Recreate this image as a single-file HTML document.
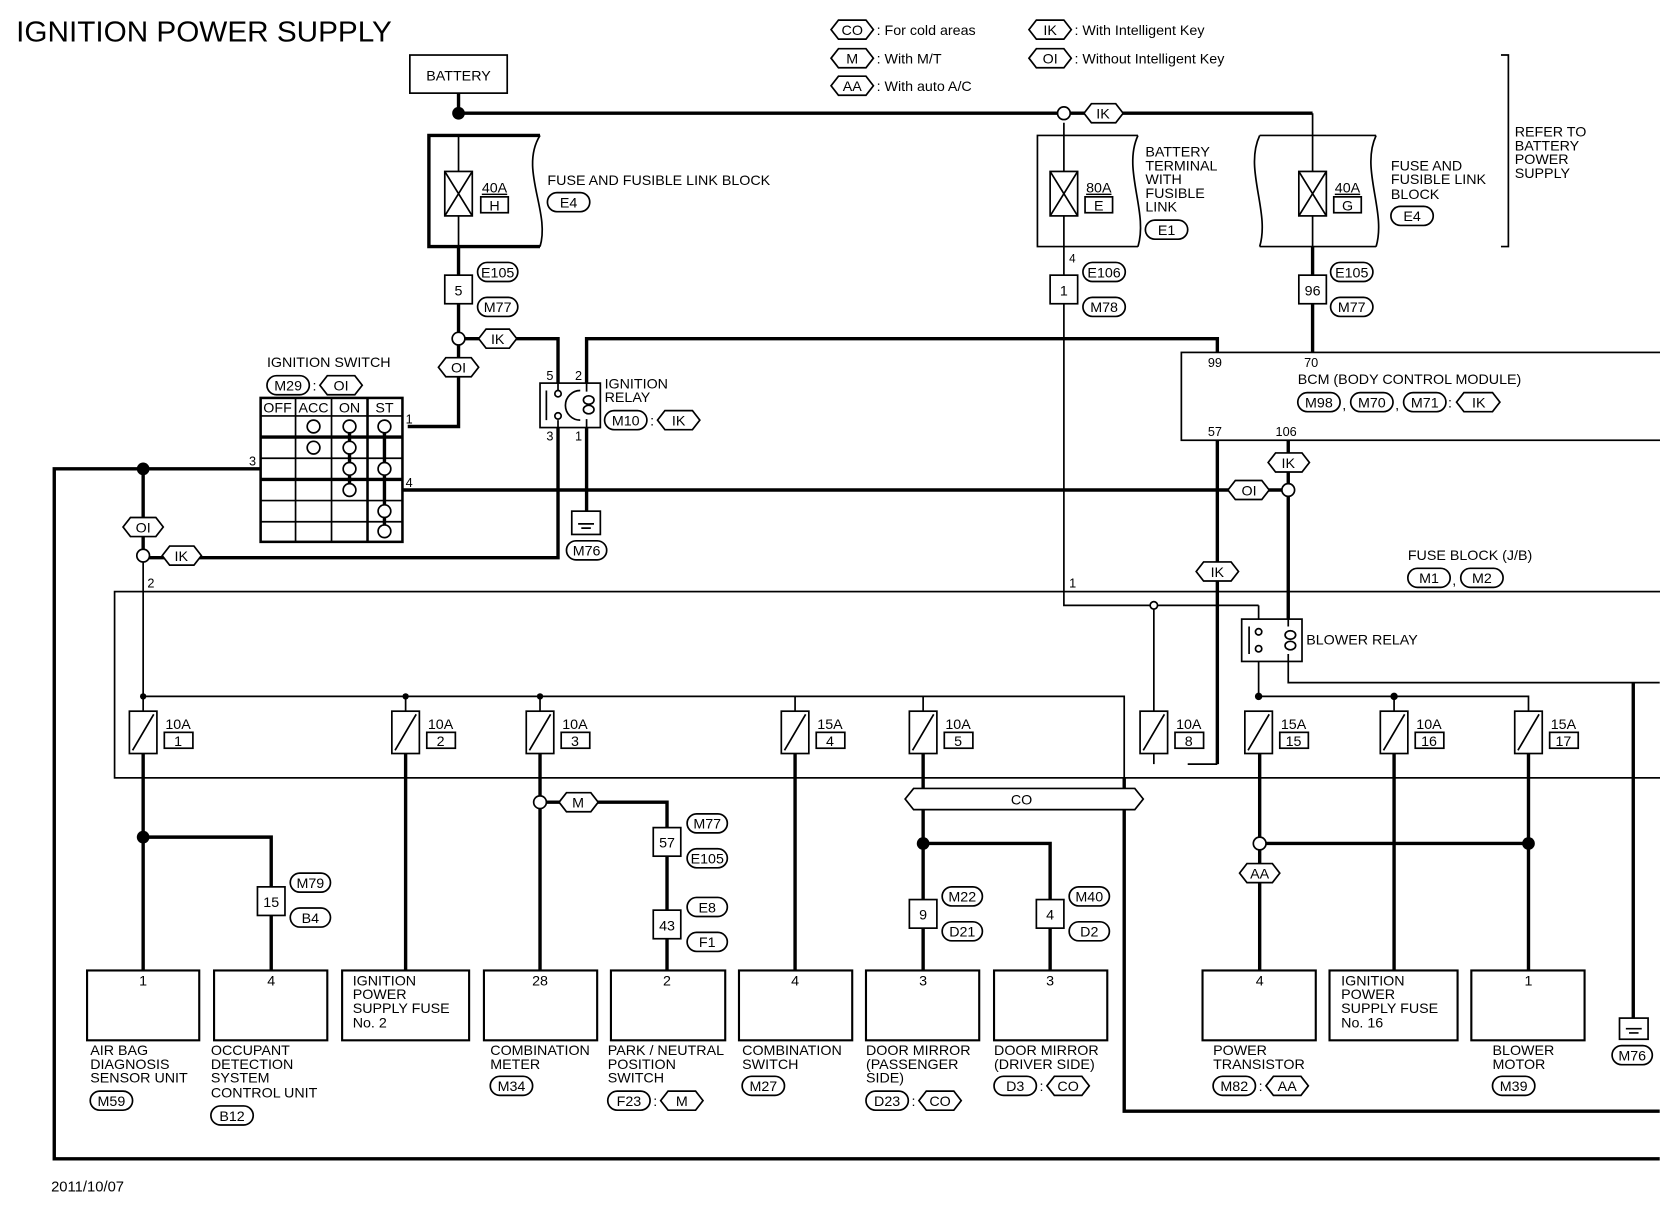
<!DOCTYPE html>
<html><head><meta charset="utf-8"><style>
html,body{margin:0;padding:0;background:#fff}
svg{display:block}
text{font-family:"Liberation Sans",sans-serif;font-size:13.5px;fill:#000}
.t{stroke:#000;stroke-width:3.2;fill:none}
.n{stroke:#000;stroke-width:1.6;fill:none}
.b{stroke:#000;stroke-width:1.6;fill:#fff}
.m{text-anchor:middle}
</style></head><body>
<svg width="1660" height="1216" viewBox="0 0 1568 1149" xmlns="http://www.w3.org/2000/svg">
<text x="15" y="39" style="font-size:27px" textLength="355" lengthAdjust="spacingAndGlyphs">IGNITION POWER SUPPLY</text>

<!-- legend -->
<g class="n">
<polygon points="785,28 792,19 818,19 825,28 818,37 792,37"/>
<polygon points="785,55 792,46 818,46 825,55 818,64 792,64"/>
<polygon points="785,81 792,72 818,72 825,81 818,90 792,90"/>
<polygon points="972,28 979,19 1005,19 1012,28 1005,37 979,37"/>
<polygon points="972,55 979,46 1005,46 1012,55 1005,64 979,64"/>
</g>
<text x="805" y="33" class="m">CO</text><text x="805" y="60" class="m">M</text><text x="805" y="86" class="m">AA</text>
<text x="992" y="33" class="m">IK</text><text x="992" y="60" class="m">OI</text>
<text x="828" y="33">: For cold areas</text><text x="828" y="60">: With M/T</text><text x="828" y="86">: With auto A/C</text>
<text x="1015" y="33">: With Intelligent Key</text><text x="1015" y="60">: Without Intelligent Key</text>
<path class="n" d="M1418,52 H1425 V233 H1418"/>
<text x="1431" y="129">REFER TO</text><text x="1431" y="142">BATTERY</text><text x="1431" y="155">POWER</text><text x="1431" y="168">SUPPLY</text>

<!-- battery -->
<rect class="n" x="387" y="52" width="92" height="36"/>
<text x="433" y="76" class="m">BATTERY</text>
<path class="t" d="M433,88 V107 H1005 M1005,107 H1240"/>
<circle cx="433" cy="107" r="6"/>

<!-- fuse blocks top -->
<path class="t" d="M510,128 H405 V233 H510" /><path class="n" d="M510,128 C490,160 520,200 510,233"/>
<path class="n" d="M1075,128 H980 V233 H1075 M1075,128 C1060,160 1085,200 1075,233"/>
<path class="n" d="M1190,128 H1300 M1190,233 H1300 M1190,128 C1175,160 1200,200 1190,233 M1300,128 C1285,160 1310,200 1300,233"/>
<path class="n" d="M433,128 V233"/><path class="n" d="M1005,116 V572 H1189"/>
<path class="n" d="M1240,107 V260"/>
<g class="b"><rect x="420" y="162" width="26" height="42"/><rect x="992" y="162" width="26" height="42"/><rect x="1227" y="162" width="26" height="42"/>
<rect x="454" y="186" width="26" height="15"/><rect x="1025" y="186" width="26" height="15"/><rect x="1260" y="186" width="26" height="15"/></g>
<path class="n" d="M420,162 L446,204 M446,162 L420,204 M992,162 L1018,204 M1018,162 L992,204 M1227,162 L1253,204 M1253,162 L1227,204"/>
<text x="455" y="182" style="text-decoration:underline">40A</text><text x="467" y="199" class="m">H</text>
<text x="1026" y="182" style="text-decoration:underline">80A</text><text x="1038" y="199" class="m">E</text>
<text x="1261" y="182" style="text-decoration:underline">40A</text><text x="1273" y="199" class="m">G</text>
<text x="517" y="175">FUSE AND FUSIBLE LINK BLOCK</text>
<text x="1082" y="148">BATTERY</text><text x="1082" y="161">TERMINAL</text><text x="1082" y="174">WITH</text><text x="1082" y="187">FUSIBLE</text><text x="1082" y="200">LINK</text>
<text x="1314" y="161">FUSE AND</text><text x="1314" y="174">FUSIBLE LINK</text><text x="1314" y="188">BLOCK</text>
<g class="n"><rect x="517" y="182" width="40" height="18" rx="9"/><rect x="1082" y="208" width="40" height="18" rx="9"/><rect x="1314" y="195" width="40" height="18" rx="9"/></g>
<text x="537" y="196" class="m">E4</text><text x="1102" y="222" class="m">E1</text><text x="1334" y="209" class="m">E4</text>
<circle class="b" cx="1005" cy="107" r="6"/>
<polygon class="b" points="1024,107 1031,98 1054,98 1061,107 1054,116 1031,116"/><text x="1042" y="112" class="m">IK</text>

<!-- verticals to connectors -->
<path class="t" d="M433,233 V403 H385"/>
<path class="t" d="M1240,233 V333"/>
<g class="b"><rect x="420" y="260" width="26" height="27"/><rect x="992" y="260" width="26" height="27"/><rect x="1227" y="260" width="26" height="27"/></g>
<text x="433" y="279" class="m">5</text><text x="1005" y="279" class="m">1</text><text x="1240" y="279" class="m">96</text>
<text x="1010" y="248" style="font-size:11px">4</text>
<g class="n">
<rect x="451" y="248" width="38" height="18" rx="9"/><rect x="451" y="281" width="38" height="18" rx="9"/>
<rect x="1023" y="248" width="40" height="18" rx="9"/><rect x="1023" y="281" width="40" height="18" rx="9"/>
<rect x="1257" y="248" width="40" height="18" rx="9"/><rect x="1257" y="281" width="40" height="18" rx="9"/>
</g>
<text x="470" y="262" class="m">E105</text><text x="470" y="295" class="m">M77</text>
<text x="1043" y="262" class="m">E106</text><text x="1043" y="295" class="m">M78</text>
<text x="1277" y="262" class="m">E105</text><text x="1277" y="295" class="m">M77</text>

<!-- IK to relay -->
<path class="t" d="M433,320 H527 V527 H135"/>
<circle class="b" cx="433" cy="320" r="6"/>
<polygon class="b" points="452,320 459,311 481,311 488,320 481,329 459,329"/><text x="470" y="325" class="m">IK</text>
<polygon class="b" points="414,347 421,338 445,338 452,347 445,356 421,356"/><text x="433" y="352" class="m">OI</text>
<path class="t" d="M554,362 V320 H1150 V333"/>
<path class="t" d="M554,404 V483"/>
<rect class="n" x="540" y="483" width="27" height="22"/><path class="n" d="M546,495 H561 M549,499 H558"/>
<rect class="n" x="535" y="511" width="38" height="18" rx="9" fill="#fff"/><text x="554" y="525" class="m">M76</text>
<rect class="b" x="510" y="362" width="57" height="42"/>
<path class="n" d="M516,369 V397 M527,362 V369 M527,404 V397 M548,369 A4,4 0 0 0 548,397 M554,362 V370 M554,396 V404"/>
<circle class="b" cx="527" cy="372" r="3"/><circle class="b" cx="527" cy="393" r="3"/>
<ellipse class="n" cx="556" cy="378" rx="5" ry="4"/><ellipse class="n" cx="556" cy="387" rx="5" ry="4"/>
<text x="516" y="359" style="font-size:12px">5</text><text x="543" y="359" style="font-size:12px">2</text>
<text x="516" y="416" style="font-size:12px">3</text><text x="543" y="416" style="font-size:12px">1</text>
<text x="571" y="367">IGNITION</text><text x="571" y="380">RELAY</text>
<rect class="n" x="571" y="388" width="40" height="18" rx="9"/><text x="591" y="402" class="m">M10</text><text x="614" y="402">:</text>
<polygon class="n" points="621,397 628,388 654,388 661,397 654,406 628,406"/><text x="641" y="402" class="m">IK</text>

<!-- ignition switch -->
<text x="252" y="347">IGNITION SWITCH</text>
<rect class="n" x="252" y="355" width="40" height="18" rx="9"/><text x="272" y="369" class="m">M29</text><text x="295" y="369">:</text>
<polygon class="n" points="302,364 309,355 335,355 342,364 335,373 309,373"/><text x="322" y="369" class="m">OI</text>
<rect class="n" x="246" y="376" width="134" height="136" style="stroke-width:2.4"/>
<path class="n" d="M279,376 V512 M313,376 V512 M246,393 H380 M246,433 H380 M246,473 H380 M246,493 H380"/>
<path class="n" style="stroke-width:2.4" d="M347,376 V512"/>
<path class="t" d="M246,413 H380 M246,453 H380"/>
<text x="262" y="390" class="m">OFF</text><text x="296" y="390" class="m">ACC</text><text x="330" y="390" class="m">ON</text><text x="363" y="390" class="m">ST</text>
<path class="t" d="M330,403 V463 M363,403 V502"/>
<g class="b"><circle cx="296" cy="403" r="6"/><circle cx="330" cy="403" r="6"/><circle cx="363" cy="403" r="6"/>
<circle cx="296" cy="423" r="6"/><circle cx="330" cy="423" r="6"/>
<circle cx="330" cy="443" r="6"/><circle cx="363" cy="443" r="6"/>
<circle cx="330" cy="463" r="6"/><circle cx="363" cy="483" r="6"/><circle cx="363" cy="502" r="6"/></g>
<text x="383" y="400" style="font-size:12px">1</text><text x="383" y="460" style="font-size:12px">4</text><text x="235" y="440" style="font-size:12px">3</text>
<path class="t" d="M380,463 H1217"/>
<path class="t" d="M246,443 H51 V1095 H1568"/>
<circle cx="135" cy="443" r="6"/>
<path class="t" d="M135,443 V527"/>
<path class="n" d="M135,527 V658"/>
<circle class="b" cx="135" cy="525" r="6"/>
<polygon class="b" points="116,498 123,489 147,489 154,498 147,507 123,507"/><text x="135" y="503" class="m">OI</text>
<polygon class="b" points="153,525 160,516 183,516 190,525 183,534 160,534"/><text x="171" y="530" class="m">IK</text>
<text x="139" y="555" style="font-size:12px">2</text>

<!-- BCM -->
<rect class="n" x="1116" y="333" width="460" height="83"/>
<text x="1141" y="347" style="font-size:12px">99</text><text x="1232" y="347" style="font-size:12px">70</text>
<text x="1226" y="363">BCM (BODY CONTROL MODULE)</text>
<g class="n"><rect x="1226" y="371" width="40" height="18" rx="9"/><rect x="1276" y="371" width="40" height="18" rx="9"/><rect x="1326" y="371" width="40" height="18" rx="9"/>
<polygon points="1376,380 1383,371 1410,371 1417,380 1410,389 1383,389"/></g>
<text x="1246" y="385" class="m">M98</text><text x="1296" y="385" class="m">M70</text><text x="1346" y="385" class="m">M71</text>
<text x="1268" y="387">,</text><text x="1318" y="387">,</text><text x="1368" y="385">:</text><text x="1397" y="385" class="m">IK</text>
<text x="1141" y="412" style="font-size:12px">57</text><text x="1205" y="412" style="font-size:12px">106</text>
<path class="t" d="M1150,416 V722 M1217,416 V585"/>
<path class="n" d="M1150,722 H1122"/>
<polygon class="b" points="1198,437 1205,428 1230,428 1237,437 1230,446 1205,446"/><text x="1217" y="442" class="m">IK</text>
<polygon class="b" points="1160,463 1167,454 1192,454 1199,463 1192,472 1167,472"/><text x="1180" y="468" class="m">OI</text>
<circle class="b" cx="1217" cy="463" r="6"/>
<polygon class="b" points="1130,540 1137,531 1163,531 1170,540 1163,549 1137,549"/><text x="1150" y="545" class="m">IK</text>

<!-- fuse block J/B -->
<rect class="n" x="108" y="559" width="1470" height="176"/>
<text x="1330" y="529">FUSE BLOCK (J/B)</text>
<rect class="n" x="1330" y="537" width="40" height="18" rx="9"/><text x="1350" y="551" class="m">M1</text><text x="1372" y="553">,</text>
<rect class="n" x="1380" y="537" width="40" height="18" rx="9"/><text x="1400" y="551" class="m">M2</text>
<text x="1010" y="555" style="font-size:12px">1</text>
<path class="n" d="M1090,572 V672"/><circle class="b" cx="1090" cy="572" r="3.5"/>
<path class="n" d="M1189,572 V594 M1189,616 V658"/>
<rect class="b" x="1173" y="585" width="57" height="40"/>
<path class="n" d="M1180,592 V618 M1217,585 V592 M1217,618 V645 H1568"/>
<circle class="b" cx="1189" cy="597" r="3"/><circle class="b" cx="1189" cy="613" r="3"/>
<ellipse class="n" cx="1219" cy="600" rx="5" ry="4"/><ellipse class="n" cx="1219" cy="610" rx="5" ry="4"/>
<text x="1234" y="609">BLOWER RELAY</text>
<path class="n" d="M135,658 H1062 V735 M1189,658 H1444 V672"/>
<circle cx="135" cy="658" r="3"/><circle cx="383" cy="658" r="3"/><circle cx="510" cy="658" r="3"/><circle cx="1189" cy="658" r="3.5"/><circle cx="1317" cy="658" r="3.5"/>
<path class="t" d="M1062,735 V1050 H1568 M1543,645 V962"/>
<rect class="n" x="1530" y="962" width="27" height="20"/><path class="n" d="M1536,972 H1551 M1539,976 H1548"/>
<rect class="b" x="1523" y="988" width="38" height="18" rx="9"/><text x="1542" y="1002" class="m">M76</text>

<!-- fuses -->
<g class="n">
<path d="M135,658 V672 M383,658 V672 M510,658 V672 M751,658 V672 M872,658 V672 M1317,658 V672"/>
<rect x="122" y="672" width="26" height="40"/><path d="M125,709 L145,675"/><rect x="155" y="692" width="27" height="15"/>
<rect x="370" y="672" width="26" height="40"/><path d="M373,709 L393,675"/><rect x="403" y="692" width="27" height="15"/>
<rect x="497" y="672" width="26" height="40"/><path d="M500,709 L520,675"/><rect x="530" y="692" width="27" height="15"/>
<rect x="738" y="672" width="26" height="40"/><path d="M741,709 L761,675"/><rect x="771" y="692" width="27" height="15"/>
<rect x="859" y="672" width="26" height="40"/><path d="M862,709 L882,675"/><rect x="892" y="692" width="27" height="15"/>
<rect x="1077" y="672" width="26" height="40"/><path d="M1080,709 L1100,675"/><rect x="1110" y="692" width="27" height="15"/>
<rect x="1176" y="672" width="26" height="40"/><path d="M1179,709 L1199,675"/><rect x="1209" y="692" width="27" height="15"/>
<rect x="1304" y="672" width="26" height="40"/><path d="M1307,709 L1327,675"/><rect x="1337" y="692" width="27" height="15"/>
<rect x="1431" y="672" width="26" height="40"/><path d="M1434,709 L1454,675"/><rect x="1464" y="692" width="27" height="15"/>
<path d="M1090,712 V722"/>
</g>
<g style="font-size:13px">
<text x="156" y="689">10A</text><text x="168" y="705" class="m">1</text>
<text x="404" y="689">10A</text><text x="416" y="705" class="m">2</text>
<text x="531" y="689">10A</text><text x="543" y="705" class="m">3</text>
<text x="772" y="689">15A</text><text x="784" y="705" class="m">4</text>
<text x="893" y="689">10A</text><text x="905" y="705" class="m">5</text>
<text x="1111" y="689">10A</text><text x="1123" y="705" class="m">8</text>
<text x="1210" y="689">15A</text><text x="1222" y="705" class="m">15</text>
<text x="1338" y="689">10A</text><text x="1350" y="705" class="m">16</text>
<text x="1465" y="689">15A</text><text x="1477" y="705" class="m">17</text>
</g>

<!-- outputs -->
<path class="t" d="M135,712 V917 M135,791 H256 V917 M383,712 V917 M510,712 V917 M510,758 H630 V917 M751,712 V917 M872,712 V917 M872,797 H992 V917 M1190,712 V917 M1190,797 H1444 M1317,712 V917 M1444,712 V917"/>
<circle cx="135" cy="791" r="6"/><circle cx="872" cy="797" r="6"/><circle cx="1444" cy="797" r="6"/>
<circle class="b" cx="510" cy="758" r="6"/><circle class="b" cx="1190" cy="797" r="6"/>
<polygon class="b" points="528,758 535,749 558,749 565,758 558,767 535,767"/><text x="546" y="763" class="m">M</text>
<polygon class="b" points="1171,825 1178,816 1202,816 1209,825 1202,834 1178,834"/><text x="1190" y="830" class="m">AA</text>
<polygon class="b" points="855,755 863,745 1072,745 1080,755 1072,765 863,765"/><text x="965" y="760" class="m">CO</text>
<g class="b">
<rect x="243" y="838" width="26" height="27"/><rect x="617" y="782" width="26" height="27"/><rect x="617" y="860" width="26" height="27"/>
<rect x="859" y="850" width="26" height="27"/><rect x="979" y="850" width="26" height="27"/>
</g>
<text x="256" y="857" class="m">15</text><text x="630" y="801" class="m">57</text><text x="630" y="879" class="m">43</text><text x="872" y="869" class="m">9</text><text x="992" y="869" class="m">4</text>
<g class="n">
<rect x="274" y="825" width="38" height="18" rx="9"/><rect x="274" y="858" width="38" height="18" rx="9"/>
<rect x="649" y="769" width="38" height="18" rx="9"/><rect x="649" y="802" width="38" height="18" rx="9"/>
<rect x="649" y="848" width="38" height="18" rx="9"/><rect x="649" y="881" width="38" height="18" rx="9"/>
<rect x="890" y="838" width="38" height="18" rx="9"/><rect x="890" y="871" width="38" height="18" rx="9"/>
<rect x="1010" y="838" width="38" height="18" rx="9"/><rect x="1010" y="871" width="38" height="18" rx="9"/>
</g>
<text x="293" y="839" class="m">M79</text><text x="293" y="872" class="m">B4</text>
<text x="668" y="783" class="m">M77</text><text x="668" y="816" class="m">E105</text>
<text x="668" y="862" class="m">E8</text><text x="668" y="895" class="m">F1</text>
<text x="909" y="852" class="m">M22</text><text x="909" y="885" class="m">D21</text>
<text x="1029" y="852" class="m">M40</text><text x="1029" y="885" class="m">D2</text>

<!-- bottom boxes -->
<g class="b" style="stroke-width:2">
<rect x="82" y="917" width="106" height="66"/><rect x="202" y="917" width="107" height="66"/><rect x="323" y="917" width="120" height="66"/>
<rect x="457" y="917" width="107" height="66"/><rect x="577" y="917" width="108" height="66"/><rect x="698" y="917" width="107" height="66"/>
<rect x="818" y="917" width="107" height="66"/><rect x="939" y="917" width="107" height="66"/>
<rect x="1136" y="917" width="107" height="66"/><rect x="1256" y="917" width="121" height="66"/><rect x="1390" y="917" width="107" height="66"/>
</g>
<text x="135" y="931" class="m">1</text><text x="256" y="931" class="m">4</text><text x="510" y="931" class="m">28</text><text x="630" y="931" class="m">2</text>
<text x="751" y="931" class="m">4</text><text x="872" y="931" class="m">3</text><text x="992" y="931" class="m">3</text><text x="1190" y="931" class="m">4</text><text x="1444" y="931" class="m">1</text>
<text x="333" y="931">IGNITION</text><text x="333" y="944">POWER</text><text x="333" y="957">SUPPLY FUSE</text><text x="333" y="971">No. 2</text>
<text x="1267" y="931">IGNITION</text><text x="1267" y="944">POWER</text><text x="1267" y="957">SUPPLY FUSE</text><text x="1267" y="971">No. 16</text>
<text x="85" y="997">AIR BAG</text><text x="85" y="1010">DIAGNOSIS</text><text x="85" y="1023">SENSOR UNIT</text>
<text x="199" y="997">OCCUPANT</text><text x="199" y="1010">DETECTION</text><text x="199" y="1023">SYSTEM</text><text x="199" y="1037">CONTROL UNIT</text>
<text x="463" y="997">COMBINATION</text><text x="463" y="1010">METER</text>
<text x="574" y="997">PARK / NEUTRAL</text><text x="574" y="1010">POSITION</text><text x="574" y="1023">SWITCH</text>
<text x="701" y="997">COMBINATION</text><text x="701" y="1010">SWITCH</text>
<text x="818" y="997">DOOR MIRROR</text><text x="818" y="1010">(PASSENGER</text><text x="818" y="1023">SIDE)</text>
<text x="939" y="997">DOOR MIRROR</text><text x="939" y="1010">(DRIVER SIDE)</text>
<text x="1146" y="997">POWER</text><text x="1146" y="1010">TRANSISTOR</text>
<text x="1410" y="997">BLOWER</text><text x="1410" y="1010">MOTOR</text>
<g class="n">
<rect x="85" y="1031" width="40" height="18" rx="9"/><rect x="199" y="1045" width="40" height="18" rx="9"/>
<rect x="463" y="1017" width="40" height="18" rx="9"/><rect x="574" y="1031" width="40" height="18" rx="9"/>
<polygon points="624,1040 631,1031 657,1031 664,1040 657,1049 631,1049"/>
<rect x="701" y="1017" width="40" height="18" rx="9"/><rect x="818" y="1031" width="40" height="18" rx="9"/>
<polygon points="868,1040 875,1031 901,1031 908,1040 901,1049 875,1049"/>
<rect x="939" y="1017" width="40" height="18" rx="9"/>
<polygon points="989,1026 996,1017 1022,1017 1029,1026 1022,1035 996,1035"/>
<rect x="1146" y="1017" width="40" height="18" rx="9"/>
<polygon points="1196,1026 1203,1017 1229,1017 1236,1026 1229,1035 1203,1035"/>
<rect x="1410" y="1017" width="40" height="18" rx="9"/>
</g>
<text x="105" y="1045" class="m">M59</text><text x="219" y="1059" class="m">B12</text><text x="483" y="1031" class="m">M34</text>
<text x="594" y="1045" class="m">F23</text><text x="617" y="1045">:</text><text x="644" y="1045" class="m">M</text>
<text x="721" y="1031" class="m">M27</text>
<text x="838" y="1045" class="m">D23</text><text x="861" y="1045">:</text><text x="888" y="1045" class="m">CO</text>
<text x="959" y="1031" class="m">D3</text><text x="982" y="1031">:</text><text x="1009" y="1031" class="m">CO</text>
<text x="1166" y="1031" class="m">M82</text><text x="1189" y="1031">:</text><text x="1216" y="1031" class="m">AA</text>
<text x="1430" y="1031" class="m">M39</text>

<text x="48" y="1126" style="font-size:14px">2011/10/07</text>
</svg>
</body></html>
